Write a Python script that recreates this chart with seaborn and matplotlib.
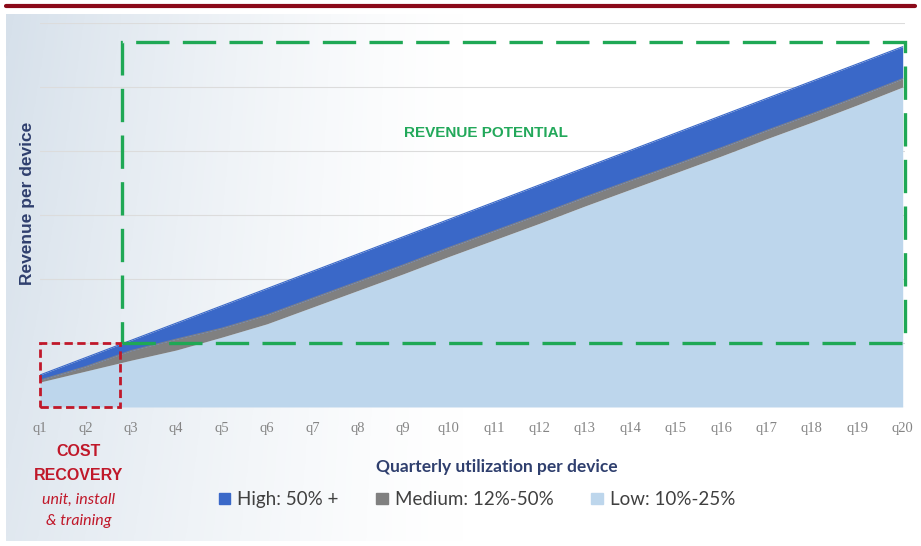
import matplotlib
matplotlib.use("Agg")
import matplotlib.pyplot as plt
from matplotlib.patches import Patch, Rectangle
from matplotlib.lines import Line2D
import seaborn as sns
import pandas as pd
import numpy as np

# Dados (unidades arbitrarias, grade de 0 a 6)
quarters = ["q" + str(i) for i in range(1, 21)]
low = [0.39, 0.56, 0.73, 0.89, 1.09, 1.30, 1.56, 1.82, 2.08, 2.35,
       2.61, 2.87, 3.14, 3.40, 3.66, 3.92, 4.19, 4.45, 4.72, 5.00]
medium = [0.03, 0.07, 0.15, 0.17, 0.14, 0.14, 0.14, 0.14, 0.14, 0.14,
          0.14, 0.14, 0.14, 0.14, 0.13, 0.13, 0.13, 0.13, 0.13, 0.13]
high = [0.08, 0.14, 0.16, 0.25, 0.35, 0.41, 0.42, 0.43, 0.44, 0.44,
        0.45, 0.46, 0.46, 0.47, 0.49, 0.50, 0.50, 0.51, 0.51, 0.50]
series_labels = ["High: 50% +", "Medium: 12%-50%", "Low: 10%-25%"]
colors = {"high": "#3a68c8", "medium": "#808080", "low": "#bdd6ec"}

df = pd.DataFrame({"quarter": quarters, "low": low, "medium": medium, "high": high})
df["pos"] = range(len(df))
df["top_low"] = df["low"]
df["top_medium"] = df["low"] + df["medium"]
df["top_high"] = df["top_medium"] + df["high"]

sns.set_theme(style="white")
plt.rcParams["font.family"] = ["Lato", "DejaVu Sans"]

fig = plt.figure(figsize=(9.21, 5.46), dpi=100)

# Fundo com degrade (gelo a esquerda, branco a direita)
bg = fig.add_axes([0.006, 0.01, 0.988, 0.965])
bg.set_axis_off()
xx = np.linspace(0, 1, 300)
yy = np.linspace(0, 1, 200)
X, Y = np.meshgrid(xx, yy)
w = np.clip(1 - X / 0.5, 0, 1) ** 1.3 * (0.75 + 0.25 * Y)
base = np.array([0.84, 0.88, 0.92])
img = 1 - w[..., None] * (1 - base)
bg.imshow(img, aspect="auto", extent=[0, 1, 0, 1], origin="lower")

# Linha vermelha no topo
fig.add_artist(Line2D([0.006, 0.994], [0.989, 0.989], color="#8b0a1a", lw=3,
                      transform=fig.transFigure))

ax = fig.add_axes([0.0434, 0.2546, 0.9392, 0.7033])
ax.patch.set_alpha(0)

ax.fill_between(df["pos"], 0, df["top_low"], color=colors["low"], lw=0)
ax.fill_between(df["pos"], df["top_low"], df["top_medium"], color=colors["medium"], lw=0)
ax.fill_between(df["pos"], df["top_medium"], df["top_high"], color=colors["high"], lw=0)
sns.lineplot(data=df, x="pos", y="top_high", color=colors["high"], lw=0.8, ax=ax)
sns.lineplot(data=df, x="pos", y="top_medium", color="#7a7f8a", lw=0.8, ax=ax)

ax.set_xlim(0, 19.05)
ax.set_ylim(0, 6)
ax.set_yticks(range(0, 7))
ax.set_yticklabels([])
ax.tick_params(axis="y", length=0)
ax.grid(axis="y", color="#dcdcdc", lw=0.8)
ax.set_axisbelow(True)
for s in ax.spines.values():
    s.set_visible(False)

ax.set_xticks(df["pos"])
ax.set_xticklabels(df["quarter"], fontsize=10.5, color="#858585",
                   family=["Liberation Serif", "DejaVu Serif"])
ax.tick_params(axis="x", length=0, pad=11)
ax.set_xlabel("Quarterly utilization per device", fontsize=12.5, fontweight="bold",
              color="#2f3f6e")
ax.xaxis.set_label_coords(0.528, -0.135)
ax.set_ylabel("Revenue per device", fontsize=12.5, fontweight="bold", color="#2f3f6e",
              family=["Liberation Sans", "DejaVu Sans"])
ax.yaxis.set_label_coords(-0.006, 0.53)

# Caixa verde tracejada (potencial de receita)
ax.add_patch(Rectangle((1.80, 1.0), 19.05 - 1.80, 4.70, fill=False, ec="#1fa855",
                       lw=2.4, ls=(0, (10, 4)), clip_on=False, zorder=5))
ax.text(9.82, 4.28, "REVENUE POTENTIAL", color="#22a85a", fontsize=11,
        fontweight="bold", ha="center", va="center",
        family=["Liberation Sans Narrow", "Liberation Sans", "DejaVu Sans"])

# Caixa vermelha tracejada (recuperacao de custo)
ax.add_patch(Rectangle((0, 0), 1.76, 1.0, fill=False, ec="#c0182a", lw=2.0,
                       ls=(0, (3, 1.6)), clip_on=False, zorder=5))
fig.text(0.085, 0.151, "COST\nRECOVERY", color="#c0182a", fontsize=11.5,
         fontweight="bold", ha="center", va="center", linespacing=1.75,
         family=["Liberation Sans Narrow", "Liberation Sans", "DejaVu Sans"])
fig.text(0.085, 0.065, "unit, install\n& training", color="#c0182a", fontsize=11.5,
         style="italic", ha="center", va="center", linespacing=1.6)

handles = [Patch(color=colors["high"]), Patch(color=colors["medium"]),
           Patch(color=colors["low"])]
fig.legend(handles, series_labels, loc="center", bbox_to_anchor=(0.518, 0.085),
           ncol=3, frameon=False, fontsize=13.5, handlelength=0.6, handleheight=0.6,
           handletextpad=0.4, columnspacing=2.0, labelcolor="#404040")

fig.savefig("out.png", dpi=100)
